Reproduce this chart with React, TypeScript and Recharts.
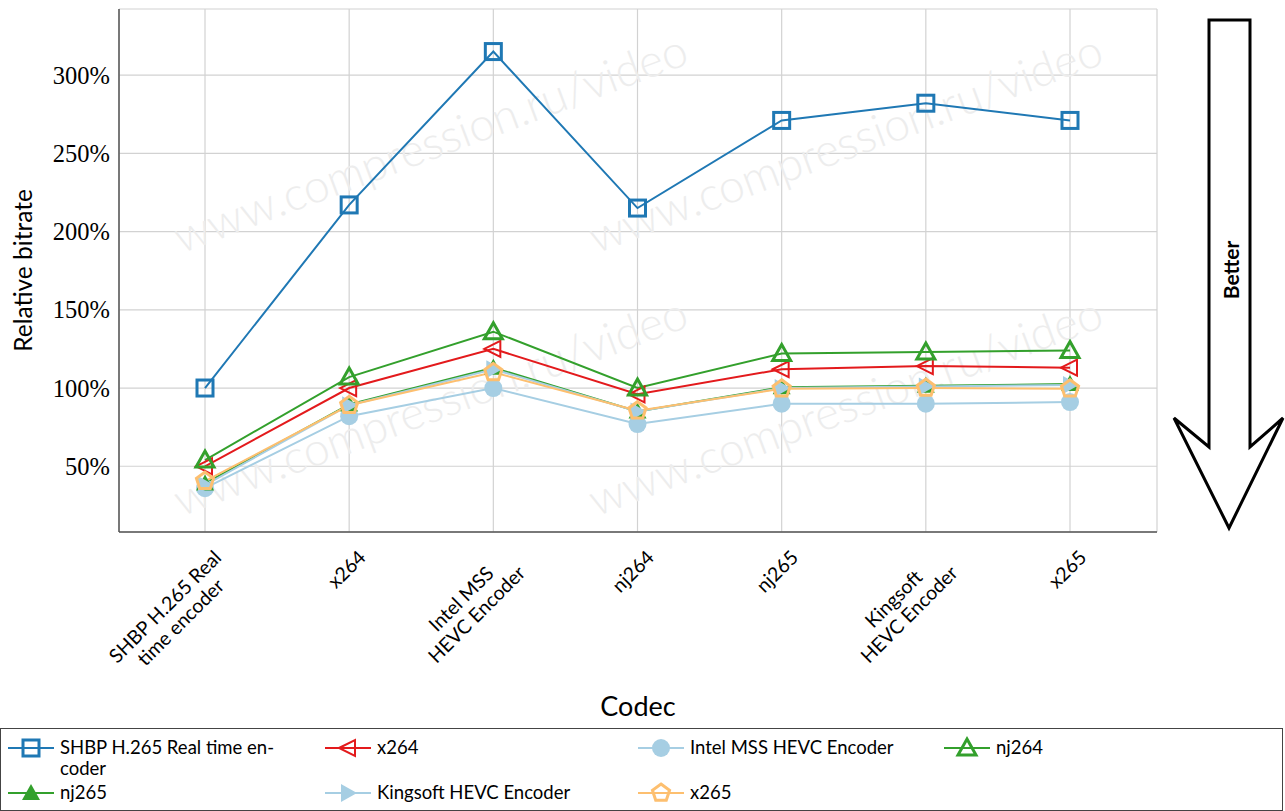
import React from 'react';
import { LineChart, Line, XAxis, YAxis, CartesianGrid, Legend, Label, Customized } from 'recharts';

const categories = [
  'SHBP H.265 Real time encoder',
  'x264',
  'Intel MSS HEVC Encoder',
  'nj264',
  'nj265',
  'Kingsoft HEVC Encoder',
  'x265',
];
const tickLabelLines = [
  ['SHBP H.265 Real', 'time encoder'],
  ['x264'],
  ['Intel MSS', 'HEVC Encoder'],
  ['nj264'],
  ['nj265'],
  ['Kingsoft', 'HEVC Encoder'],
  ['x265'],
];
const yTicks = [50, 100, 150, 200, 250, 300];

const shbpValues = [100, 217, 315, 215, 271, 282, 271];
const x264Values = [50, 100, 125, 96, 112, 114, 113];
const intelValues = [36, 82, 100, 77, 90, 90, 91];
const nj264Values = [54, 107, 136, 100, 122, 123, 124];
const nj265Values = [39, 89.5, 113, 85, 100.5, 101.5, 102.5];
const kingsoftValues = [38, 89, 112, 85, 100, 101, 102];
const x265Values = [40.5, 89, 110, 85.5, 99.5, 100, 99.5];

const seriesNames = [
  'SHBP H.265 Real time encoder',
  'x264',
  'Intel MSS HEVC Encoder',
  'nj264',
  'nj265',
  'Kingsoft HEVC Encoder',
  'x265',
];
const seriesKeys = ['shbp', 'x264', 'intel', 'nj264', 'nj265', 'kingsoft', 'x265'];
const seriesValues = [shbpValues, x264Values, intelValues, nj264Values, nj265Values, kingsoftValues, x265Values];
const seriesColors = ['#1f78b4', '#e31a1c', '#a6cee3', '#33a02c', '#33a02c', '#a6cee3', '#fdbf6f'];
const seriesShapes = ['square', 'triLeft', 'circle', 'triUpOpen', 'triUp', 'triRight', 'pentagon'];

const data = categories.map((c, i) => {
  const row: any = { name: c };
  seriesKeys.forEach((k, s) => {
    row[k] = seriesValues[s][i];
  });
  return row;
});

const FONT = 'Lato, "Open Sans", sans-serif';

let measureCtx: CanvasRenderingContext2D | null = null;
function textWidth(s: string, font: string) {
  if (typeof document === 'undefined') return s.length * 8;
  if (!measureCtx) measureCtx = document.createElement('canvas').getContext('2d');
  if (!measureCtx) return s.length * 8;
  measureCtx.font = font;
  return measureCtx.measureText(s).width;
}

function Marker({ shape, cx, cy, color }: { shape: string; cx: number; cy: number; color: string }) {
  switch (shape) {
    case 'square':
      return <rect x={cx - 8} y={cy - 8} width={16} height={16} fill="none" stroke={color} strokeWidth={3} />;
    case 'triLeft':
      return (
        <polygon
          points={`${cx - 9},${cy} ${cx + 7},${cy - 8} ${cx + 7},${cy + 8}`}
          fill="none"
          stroke={color}
          strokeWidth={2}
        />
      );
    case 'circle':
      return <circle cx={cx} cy={cy} r={9} fill={color} />;
    case 'triUpOpen':
      return (
        <polygon
          points={`${cx},${cy - 9} ${cx + 9},${cy + 7} ${cx - 9},${cy + 7}`}
          fill="none"
          stroke={color}
          strokeWidth={3}
        />
      );
    case 'triUp':
      return <polygon points={`${cx},${cy - 9} ${cx + 9},${cy + 7} ${cx - 9},${cy + 7}`} fill={color} />;
    case 'triRight':
      return <polygon points={`${cx + 9},${cy} ${cx - 7},${cy - 9} ${cx - 7},${cy + 9}`} fill={color} />;
    case 'pentagon': {
      const r = 9;
      const pts = [0, 1, 2, 3, 4]
        .map((k) => {
          const a = -Math.PI / 2 + (k * 2 * Math.PI) / 5;
          return `${cx + r * Math.cos(a)},${cy + r * Math.sin(a)}`;
        })
        .join(' ');
      return <polygon points={pts} fill="none" stroke={color} strokeWidth={3} />;
    }
    default:
      return null;
  }
}

const XTick = (props: any) => {
  const { x, y, payload } = props;
  const idx = categories.indexOf(payload.value);
  const lines = idx >= 0 ? tickLabelLines[idx] : [String(payload.value)];
  const fs = 19.5;
  const lh = 22;
  const w = Math.max(...lines.map((l) => textWidth(l, `${fs}px Lato`)));
  return (
    <g transform={`translate(${x + 6},${y + 15}) rotate(-45)`}>
      {lines.map((l, i) => (
        <text key={i} x={-w / 2} y={fs * 0.85 + i * lh} textAnchor="middle" fontFamily={FONT} fontSize={fs} fill="#000">
          {l}
        </text>
      ))}
    </g>
  );
};

const Watermark = () => {
  const centers = [
    [430, 142],
    [845, 142],
    [430, 405],
    [845, 405],
  ];
  return (
    <g>
      {centers.map(([cx, cy], i) => (
        <text
          key={i}
          x={cx}
          y={cy}
          transform={`rotate(-20.5 ${cx} ${cy})`}
          textAnchor="middle"
          dominantBaseline="central"
          fontFamily={FONT}
          fontWeight={300}
          fontSize={46}
          fill="#ededed"
        >
          www.compression.ru/video
        </text>
      ))}
    </g>
  );
};

const BetterArrow = () => (
  <g>
    <polygon
      points="1209,20 1250,20 1250,447 1283,418 1229,528 1174,418 1209,447"
      fill="#fff"
      stroke="#000"
      strokeWidth={3}
      strokeLinejoin="miter"
    />
    <text
      x={1230}
      y={270}
      transform="rotate(-90 1230 270)"
      textAnchor="middle"
      dominantBaseline="central"
      fontFamily={FONT}
      fontWeight={700}
      fontSize={21}
      fill="#000"
    >
      Better
    </text>
  </g>
);

const legendCols = [8, 325, 638, 944];
const legendRows = [747, 792];

const LegendContent = () => (
  <div
    style={{
      position: 'relative',
      width: 1283,
      height: 83,
      border: '1.5px solid #444',
      boxSizing: 'border-box',
      background: '#fff',
    }}
  >
    {seriesNames.map((name, i) => {
      const col = i % 4;
      const row = Math.floor(i / 4);
      const left = legendCols[col];
      const cy = legendRows[row] - 728;
      const lines = i === 0 ? ['SHBP H.265 Real time en-', 'coder'] : [name];
      return (
        <div key={i} style={{ position: 'absolute', left: left - 1, top: cy - 10 }}>
          <svg width={48} height={20} style={{ position: 'absolute', left: 0, top: 0, overflow: 'visible' }}>
            <line x1={0} y1={10} x2={46} y2={10} stroke={seriesColors[i]} strokeWidth={2} />
            <Marker shape={seriesShapes[i]} cx={23} cy={10} color={seriesColors[i]} />
          </svg>
          <div
            style={{
              position: 'absolute',
              left: 52,
              top: -1,
              fontFamily: FONT,
              fontSize: 18.5,
              lineHeight: '21px',
              whiteSpace: 'nowrap',
              color: '#000',
            }}
          >
            {lines.map((l, k) => (
              <div key={k} style={{ height: 21 }}>{l}</div>
            ))}
          </div>
        </div>
      );
    })}
  </div>
);

export default function App() {
  return (
    <div style={{ position: 'absolute', left: 0, top: 0, width: 1285, height: 811, background: '#fff' }}>
      <LineChart width={1285} height={811} data={data} margin={{ top: 9, right: 128, bottom: 0, left: 0 }}>
        <Customized component={Watermark} />
        <CartesianGrid stroke="#d2d2d2" strokeWidth={1.2} />
        <XAxis
          dataKey="name"
          type="category"
          padding={{ left: 86, right: 87 }}
          height={279}
          tick={<XTick />}
          tickLine={false}
          tickSize={0}
          tickMargin={0}
          interval={0}
          axisLine={{ stroke: '#555', strokeWidth: 1.5 }}
        >
          <Label
            value="Codec"
            position="insideTop"
            offset={165}
            fontFamily={FONT}
            fontSize={27}
            fill="#000"
          />
        </XAxis>
        <XAxis
          xAxisId="top"
          orientation="top"
          dataKey="name"
          height={0}
          tick={false}
          tickLine={false}
          axisLine={{ stroke: '#555', strokeWidth: 1.5 }}
        />
        <YAxis
          type="number"
          domain={[8, 342.2]}
          ticks={yTicks}
          allowDataOverflow
          width={119}
          tickLine={false}
          tickSize={0}
          tickMargin={9}
          tickFormatter={(v: number) => `${v}%`}
          tick={{ fontFamily: '"Liberation Serif", serif', fontSize: 24.5, fill: '#000' }}
          axisLine={{ stroke: '#555', strokeWidth: 1.5 }}
        >
          <Label
            content={(p: any) => {
              const vb = p.viewBox || {};
              const cx = 32;
              const cy = (vb.y ?? 9) + (vb.height ?? 523) / 2;
              return (
                <text
                  x={cx}
                  y={cy}
                  transform={`rotate(-90 ${cx} ${cy})`}
                  textAnchor="middle"
                  fontFamily={FONT}
                  fontSize={24.5}
                  fill="#000"
                >
                  Relative bitrate
                </text>
              );
            }}
          />
        </YAxis>
        <YAxis
          yAxisId="right"
          orientation="right"
          type="number"
          domain={[8, 342.2]}
          width={0}
          tick={false}
          tickLine={false}
          axisLine={{ stroke: '#555', strokeWidth: 1.5 }}
        />
        {seriesKeys.map((k, i) => (
          <Line
            key={k}
            dataKey={k}
            name={seriesNames[i]}
            stroke={seriesColors[i]}
            strokeWidth={2}
            isAnimationActive={false}
            dot={(p: any) => (
              <Marker key={`${k}-${p.index}`} shape={seriesShapes[i]} cx={p.cx} cy={p.cy} color={seriesColors[i]} />
            )}
            activeDot={false}
          />
        ))}
        <Customized component={BetterArrow} />
        <Legend
          layout="vertical"
          align="center"
          verticalAlign="middle"
          content={() => <LegendContent />}
          wrapperStyle={{ position: 'absolute', left: 0, top: 728, width: 1283, height: 83 }}
        />
      </LineChart>
    </div>
  );
}
